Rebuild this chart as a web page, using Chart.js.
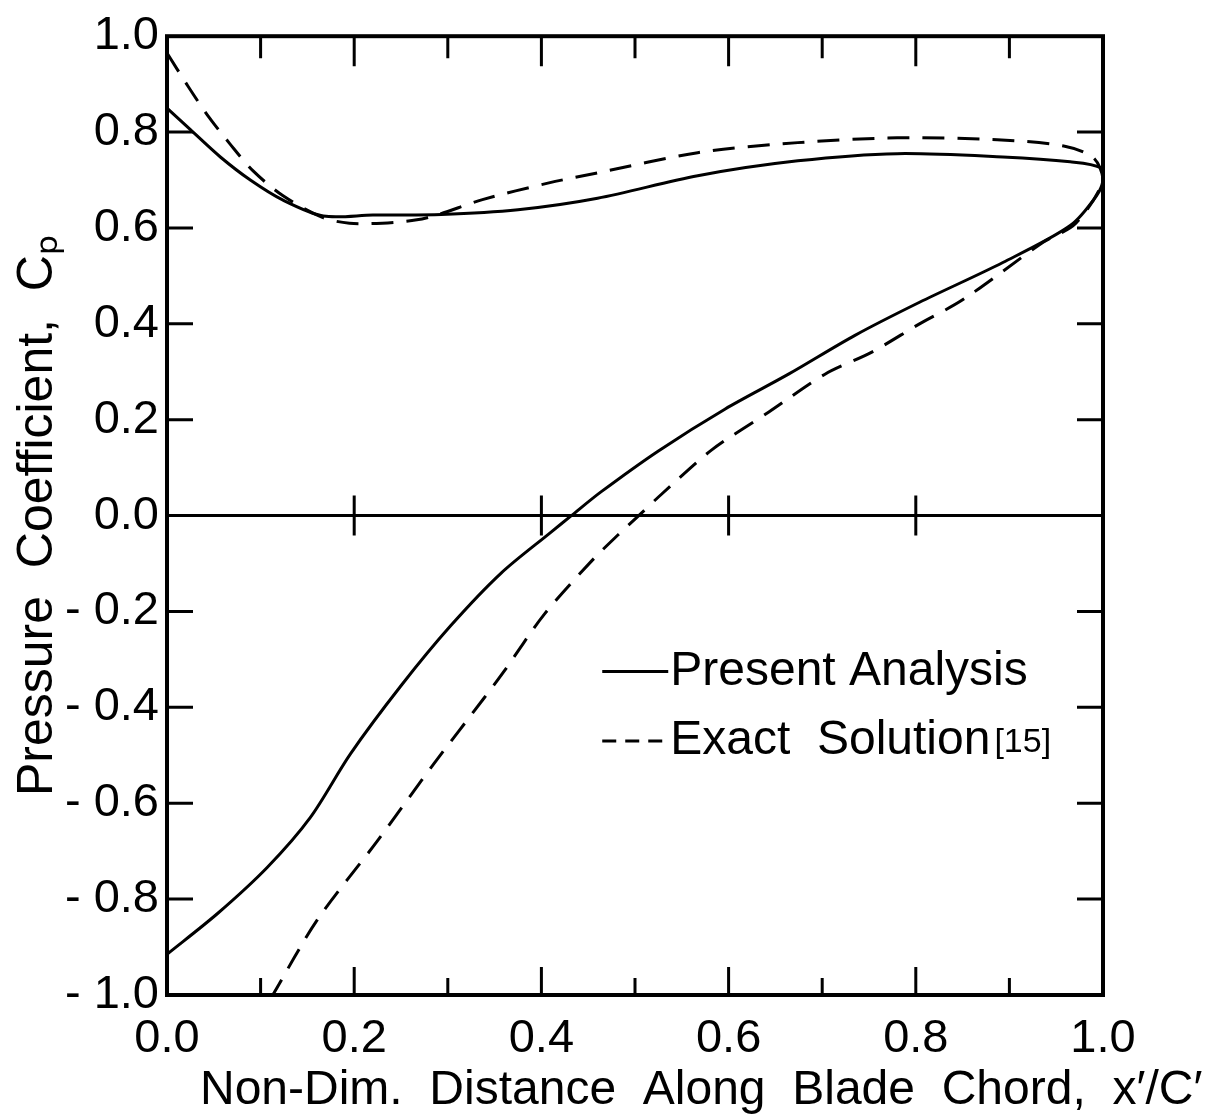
<!DOCTYPE html>
<html>
<head>
<meta charset="utf-8">
<script src="https://cdn.jsdelivr.net/npm/chart.js@4.4.1/dist/chart.umd.min.js"></script>
<style>
  html, body { margin: 0; padding: 0; background: #fff; }
  canvas { display: block; }
</style>
</head>
<body>
<canvas id="cp-chart" width="1217" height="1120"></canvas>
<script>
// Present Analysis: suction side 0 -> 1, then pressure side 1 -> 0
const presentX = [0, 0.025, 0.057, 0.089, 0.124, 0.167, 0.22, 0.293, 0.375, 0.46, 0.567, 0.674, 0.78, 0.893, 0.965, 0.997, 1.0,
  0.993, 0.965, 0.893, 0.804, 0.735, 0.664, 0.596, 0.525, 0.464, 0.432, 0.41, 0.357, 0.303, 0.25, 0.196, 0.153, 0.107, 0.054, 0];
const presentY = [0.85, 0.805, 0.748, 0.700, 0.658, 0.625, 0.627, 0.628, 0.638, 0.662, 0.709, 0.74, 0.755, 0.748, 0.738, 0.726, 0.70,
  0.667, 0.605, 0.528, 0.445, 0.376, 0.295, 0.222, 0.135, 0.05, 0.0, -0.035, -0.12, -0.23, -0.355, -0.497, -0.63, -0.734, -0.83, -0.915];

// Exact Solution [15]
const exactX = [0, 0.021, 0.043, 0.067, 0.092, 0.124, 0.166, 0.195, 0.23, 0.267, 0.29, 0.337, 0.408, 0.46, 0.567, 0.674, 0.78, 0.887, 0.958, 0.99, 1.0,
  0.971, 0.936, 0.85, 0.804, 0.753, 0.703, 0.643, 0.582, 0.528, 0.504, 0.482, 0.453, 0.403, 0.36, 0.339, 0.285, 0.225, 0.16, 0.113];
const exactY = [0.965, 0.900, 0.836, 0.776, 0.719, 0.667, 0.622, 0.61, 0.61, 0.617, 0.628, 0.659, 0.694, 0.715, 0.757, 0.778, 0.788, 0.784, 0.771, 0.746, 0.70,
  0.61, 0.57, 0.45, 0.40, 0.341, 0.295, 0.216, 0.137, 0.044, 0.0, -0.04, -0.096, -0.206, -0.325, -0.38, -0.518, -0.678, -0.845, -1.0];

const xTickValues = [0, 0.2, 0.4, 0.6, 0.8, 1.0];
const xMinorTicks = [0.1, 0.3, 0.5, 0.7, 0.9];
const yTickValues = [-1.0, -0.8, -0.6, -0.4, -0.2, 0.0, 0.2, 0.4, 0.6, 0.8, 1.0];

const seriesNames = ["Present Analysis", "Exact  Solution"];
const xTitle = "Non-Dim.  Distance  Along  Blade  Chord,  x\u2032/C\u2032";
const yTitle = "Pressure  Coefficient,  C\u209A";

const FONT = "'Liberation Sans Narrow', 'Liberation Sans', sans-serif";

function toPoints(xs, ys) {
  return xs.map((x, i) => ({ x: x, y: ys[i] }));
}

// frame, inward ticks, zero line, legend and x title
const framePlugin = {
  id: "frame",
  afterDraw(chart) {
    const ctx = chart.ctx;
    const a = chart.chartArea;
    const xs = chart.scales.x;
    const ys = chart.scales.y;
    ctx.save();
    ctx.strokeStyle = "#000";
    ctx.lineCap = "butt";

    ctx.lineWidth = 4;
    ctx.strokeRect(a.left, a.top, a.right - a.left, a.bottom - a.top);

    const y0 = ys.getPixelForValue(0);
    ctx.lineWidth = 3;
    ctx.beginPath();
    ctx.moveTo(a.left, y0);
    ctx.lineTo(a.right, y0);
    ctx.stroke();

    ctx.beginPath();
    xTickValues.concat(xMinorTicks).forEach(v => {
      if (v <= 0 || v >= 1) return;
      const px = xs.getPixelForValue(v);
      const major = xTickValues.includes(v);
      ctx.moveTo(px, a.top);
      ctx.lineTo(px, a.top + (major ? 30 : 22));
      ctx.moveTo(px, a.bottom);
      ctx.lineTo(px, a.bottom - (major ? 28 : 17));
      if (major) {
        ctx.moveTo(px, y0 - 20);
        ctx.lineTo(px, y0 + 20);
      }
    });
    yTickValues.forEach(v => {
      if (v <= -1 || v >= 1 || v === 0) return;
      const py = ys.getPixelForValue(v);
      ctx.moveTo(a.left, py);
      ctx.lineTo(a.left + 26, py);
      ctx.moveTo(a.right, py);
      ctx.lineTo(a.right - 26, py);
    });
    ctx.stroke();

    // legend
    const lx = a.left + 0.465 * (a.right - a.left);
    const ly1 = ys.getPixelForValue(-0.325);
    const ly2 = ys.getPixelForValue(-0.47);
    ctx.lineWidth = 3;
    ctx.beginPath();
    ctx.moveTo(lx, ly1);
    ctx.lineTo(lx + 66, ly1);
    ctx.stroke();
    ctx.setLineDash([14, 9]);
    ctx.beginPath();
    ctx.moveTo(lx, ly2);
    ctx.lineTo(lx + 66, ly2);
    ctx.stroke();
    ctx.setLineDash([]);

    ctx.fillStyle = "#000";
    ctx.textBaseline = "middle";
    ctx.textAlign = "left";
    ctx.font = "48px " + FONT;
    ctx.fillText(seriesNames[0], lx + 68, ly1);
    ctx.fillText(seriesNames[1], lx + 68, ly2);
    const w = ctx.measureText(seriesNames[1]).width;
    ctx.font = "34px " + FONT;
    ctx.fillText("[15]", lx + 68 + w + 4, ly2 + 2);

    // x axis title
    ctx.font = "48px " + FONT;
    ctx.textBaseline = "alphabetic";
    ctx.fillText(xTitle, 200, 1104);
    ctx.restore();
  }
};

const ctx = document.getElementById("cp-chart").getContext("2d");
new Chart(ctx, {
  type: "scatter",
  data: {
    datasets: [
      {
        label: seriesNames[0],
        data: toPoints(presentX, presentY),
        showLine: true,
        borderColor: "#000",
        borderWidth: 3,
        pointRadius: 0,
        tension: 0.3,
        fill: false
      },
      {
        label: "Exact Solution[15]",
        data: toPoints(exactX, exactY),
        showLine: true,
        borderColor: "#000",
        borderWidth: 3,
        borderDash: [22, 13],
        pointRadius: 0,
        tension: 0.3,
        fill: false
      }
    ]
  },
  options: {
    responsive: false,
    animation: false,
    layout: { padding: { left: 0, right: 114, top: 33, bottom: 0 } },
    plugins: {
      legend: { display: false },
      tooltip: { enabled: false }
    },
    scales: {
      x: {
        type: "linear",
        min: 0,
        max: 1,
        afterBuildTicks: s => { s.ticks = xTickValues.map(v => ({ value: v })); },
        afterFit: s => { s.height = 125; },
        grid: { display: false, drawTicks: false },
        border: { display: false },
        ticks: {
          padding: 16,
          color: "#000",
          font: { family: FONT, size: 47 },
          callback: v => v.toFixed(1)
        }
      },
      y: {
        type: "linear",
        min: -1,
        max: 1,
        afterBuildTicks: s => { s.ticks = yTickValues.map(v => ({ value: v })); },
        afterFit: s => { s.width = 167; },
        grid: { display: false, drawTicks: false },
        border: { display: false },
        ticks: {
          padding: 8,
          color: "#000",
          font: { family: FONT, size: 47 },
          callback: v => (v < -1e-9 ? "- " + Math.abs(v).toFixed(1) : Math.abs(v).toFixed(1))
        },
        title: {
          display: true,
          text: yTitle,
          color: "#000",
          font: { family: FONT, size: 50 },
          padding: { top: 8, bottom: 8 }
        }
      }
    }
  },
  plugins: [framePlugin]
});
</script>
</body>
</html>
